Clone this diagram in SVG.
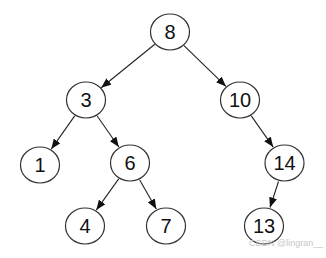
<svg xmlns="http://www.w3.org/2000/svg" width="326" height="258" viewBox="0 0 326 258">
<style>
.n ellipse{fill:#fff;stroke:#333;stroke-width:1.2}
.n text{font-family:"Liberation Sans",Arial,sans-serif;font-size:20px;fill:#111;text-anchor:middle;dominant-baseline:central}
.e line{stroke:#222;stroke-width:1.1;marker-end:url(#ah)}
.wm{font-family:"Liberation Sans",Arial,sans-serif;font-size:9px;fill:#c8c8c8}
</style>
<defs>
<marker id="ah" markerUnits="userSpaceOnUse" markerWidth="10" markerHeight="8" viewBox="0 0 10 8" refX="10" refY="4" orient="auto">
<path d="M0,0 L10,4 L0,8 z" fill="#111"/>
</marker>
</defs>
<rect width="326" height="258" fill="#fff"/>
<g class="e" id="edges">
<line x1="154.8" y1="44.3" x2="101.2" y2="87.7"/>
<line x1="184" y1="45.6" x2="226" y2="86.4"/>
<line x1="74.7" y1="115.9" x2="51.3" y2="149.1"/>
<line x1="97.2" y1="116" x2="118.8" y2="147"/>
<line x1="118.7" y1="178.9" x2="96.3" y2="210.1"/>
<line x1="139.7" y1="179.9" x2="156.3" y2="209.1"/>
<line x1="251.3" y1="115.9" x2="273.2" y2="147.1"/>
<line x1="278.5" y1="181.5" x2="270" y2="207.5"/>
</g>
<g class="n" id="n8"><ellipse cx="170" cy="32" rx="19.5" ry="18"/><text x="170" y="32">8</text></g>
<g class="n" id="n3"><ellipse cx="86" cy="100" rx="19.5" ry="18"/><text x="86" y="100">3</text></g>
<g class="n" id="n10"><ellipse cx="240" cy="100" rx="19.5" ry="18"/><text x="240" y="100">10</text></g>
<g class="n" id="n1"><ellipse cx="40" cy="165" rx="19.5" ry="18"/><text x="40" y="165">1</text></g>
<g class="n" id="n6"><ellipse cx="130" cy="163" rx="19.5" ry="18"/><text x="130" y="163">6</text></g>
<g class="n" id="n14"><ellipse cx="284.5" cy="163" rx="19.5" ry="18"/><text x="284.5" y="163">14</text></g>
<g class="n" id="n4"><ellipse cx="85" cy="226" rx="19.5" ry="18"/><text x="85" y="226">4</text></g>
<g class="n" id="n7"><ellipse cx="166" cy="226" rx="19.5" ry="18"/><text x="166" y="226">7</text></g>
<g class="n" id="n13"><ellipse cx="264" cy="226" rx="19.5" ry="18"/><text x="264" y="226">13</text></g>
<text class="wm" x="249" y="246">CSDN @lingran__</text>
</svg>
